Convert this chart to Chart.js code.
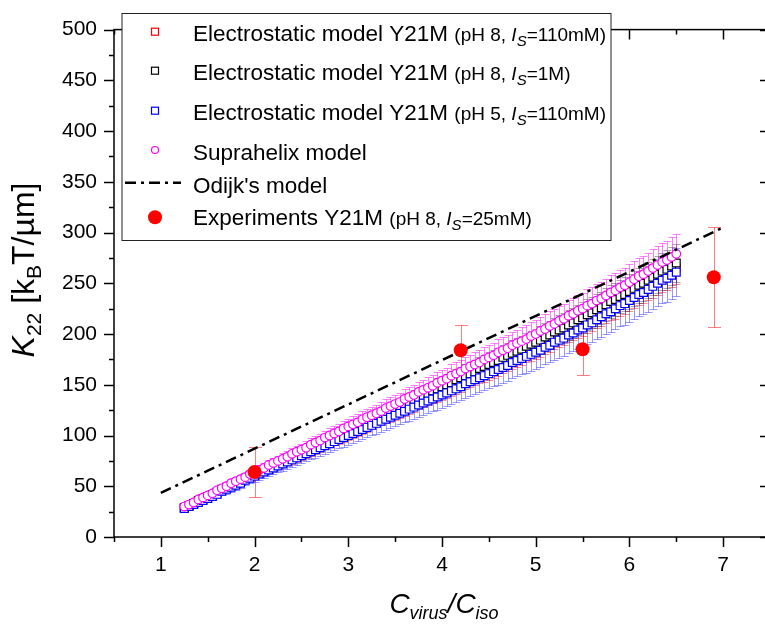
<!DOCTYPE html>
<html>
<head>
<meta charset="utf-8">
<script src="https://cdn.jsdelivr.net/npm/chart.js@4.4.1/dist/chart.umd.min.js"></script>
<style>
  html, body { margin: 0; padding: 0; overflow: hidden; background: #fff; }
</style>
</head>
<body>
<canvas id="grafico" width="780" height="628"></canvas>
<script>
// x de los modelos (C_virus / C_iso)
const xModelo = [1.25,1.3,1.35,1.4,1.45,1.5,1.55,1.6,1.65,1.7,1.75,1.8,1.85,1.9,1.95,2,2.05,2.1,2.15,2.2,2.25,2.3,2.35,2.4,2.45,2.5,2.55,2.6,2.65,2.7,2.75,2.8,2.85,2.9,2.95,3,3.05,3.1,3.15,3.2,3.25,3.3,3.35,3.4,3.45,3.5,3.55,3.6,3.65,3.7,3.75,3.8,3.85,3.9,3.95,4,4.05,4.1,4.15,4.2,4.25,4.3,4.35,4.4,4.45,4.5,4.55,4.6,4.65,4.7,4.75,4.8,4.85,4.9,4.95,5,5.05,5.1,5.15,5.2,5.25,5.3,5.35,5.4,5.45,5.5,5.55,5.6,5.65,5.7,5.75,5.8,5.85,5.9,5.95,6,6.05,6.1,6.15,6.2,6.25,6.3,6.35,6.4,6.45,6.5]

// Electrostatic model Y21M (pH 8, Is=110mM)
const yRojo = [28,30,32,35,37,39,41,43,46,48,50,52,54,57,59,61,63,65,67,69,71,73,75,77,79,81,83,85,87,89,92,94,96,98,100,102,104,106,108,110,113,115,117,119,121,123,125,127,129,131,134,136,138,140,142,144,146,148,150,152,155,157,159,161,163,165,167,169,172,174,176,178,180,183,185,187,189,192,194,197,199,201,204,206,209,211,214,216,219,221,224,227,229,232,234,237,240,243,245,248,251,254,257,259,262,265]
// Electrostatic model Y21M (pH 8, Is=1M)
const yNegro = [29,31,33,36,38,40,42,44,47,49,51,53,55,58,60,62,64,66,68,70,73,75,77,79,81,83,85,87,90,92,94,96,98,101,103,105,107,109,111,113,116,118,120,122,124,126,128,130,133,135,137,139,141,144,146,148,150,152,155,157,159,161,163,166,168,170,172,174,177,179,181,183,185,188,190,192,194,197,199,202,204,206,209,211,214,216,219,221,224,226,229,232,234,237,239,242,245,248,250,253,256,259,262,264,267,270]
// Electrostatic model Y21M (pH 5, Is=110mM)
const yAzul = [28,30,32,34,36,38,40,42,45,47,49,51,53,56,58,60,62,64,66,68,70,72,74,76,78,80,82,84,86,88,90,92,94,96,98,100,102,104,106,108,110,112,114,116,118,120,122,124,126,128,130,132,134,136,138,140,142,144,146,148,151,153,155,157,159,161,163,165,167,169,172,174,176,178,180,182,184,187,189,192,194,196,199,201,204,206,209,211,214,217,220,222,225,228,230,233,236,239,241,244,247,250,253,255,258,261]
// Suprahelix model
const yMagenta = [30,32,34,37,39,41,43,46,48,50,53,55,57,59,62,64,66,68,71,73,75,77,79,82,84,86,88,91,93,95,98,100,102,104,107,109,111,113,116,118,120,122,124,127,129,131,133,136,138,140,143,145,147,149,152,154,156,159,161,163,166,168,170,172,175,177,179,182,184,186,189,191,193,195,198,200,203,205,208,210,213,215,218,220,223,225,228,230,233,235,238,241,243,246,248,251,254,257,259,262,265,268,271,273,276,279]

// error relativo de cada modelo
const errRojo = 0.06
const errNegro = 0.07
const errAzul = 0.09
const errMagenta = 0.07

// Odijk's model
const xOdijk = [1, 7]
const yOdijk = [43.5, 305]

// Experiments Y21M (pH 8, Is=25mM)
const xExp = [2, 4.2, 5.5, 6.9]
const yExp = [64, 184, 185, 256]
const errExp = [25, 25, 25, 49]

const xTicks = [1, 2, 3, 4, 5, 6, 7]
const yTicks = [0, 50, 100, 150, 200, 250, 300, 350, 400, 450, 500]

const FAM = "'Liberation Sans', Arial, Helvetica, sans-serif"

const puntos = (xs, ys) => xs.map((x, i) => ({ x: x, y: ys[i] }))

// textos con subindices: [texto, tamaño, cursiva, desplazamiento]
const leyendas = [
  [["Electrostatic model Y21M ", 22.5], ["(pH 8, ", 19], ["I", 19, true], ["S", 15, true, 5], ["=110mM)", 19]],
  [["Electrostatic model Y21M ", 22.5], ["(pH 8, ", 19], ["I", 19, true], ["S", 15, true, 5], ["=1M)", 19]],
  [["Electrostatic model Y21M ", 22.5], ["(pH 5, ", 19], ["I", 19, true], ["S", 15, true, 5], ["=110mM)", 19]],
  [["Suprahelix model", 22.5]],
  [["Odijk's model", 22.5]],
  [["Experiments Y21M ", 22.5], ["(pH 8, ", 19], ["I", 19, true], ["S", 15, true, 5], ["=25mM)", 19]]
]
const tituloX = [["C", 28, true], ["virus", 18, true, 6], ["/", 28, true], ["C", 28, true], ["iso", 18, true, 6]]
const tituloY = [["K", 32, true], ["22", 21, false, 7], [" [k", 32], ["B", 21, false, 7], ["T/\u00b5m]", 32]]

function textoRico(ctx, partes, x, y, centrado) {
  let total = 0
  const anchos = partes.map(p => {
    ctx.font = (p[2] ? 'italic ' : '') + p[1] + 'px ' + FAM
    const w = ctx.measureText(p[0]).width
    total += w
    return w
  })
  let cx = centrado ? x - total / 2 : x
  partes.forEach((p, i) => {
    ctx.font = (p[2] ? 'italic ' : '') + p[1] + 'px ' + FAM
    ctx.fillText(p[0], cx, y + (p[3] || 0))
    cx += anchos[i]
  })
}

function marcador(ctx, ds, x, y) {
  ctx.save()
  ctx.lineWidth = ds.pointBorderWidth || 1
  ctx.strokeStyle = ds.borderColor
  ctx.fillStyle = ds.backgroundColor
  if (ds.pointStyle === 'rect') {
    const s = 3.5
    ctx.fillRect(x - s, y - s, 2 * s, 2 * s)
    ctx.strokeRect(x - s, y - s, 2 * s, 2 * s)
  } else {
    const r = ds.pointBorderWidth ? 3.5 : ds.pointRadius
    ctx.beginPath()
    ctx.arc(x, y, r, 0, Math.PI * 2)
    ctx.fill()
    if (ds.pointBorderWidth) ctx.stroke()
  }
  ctx.restore()
}

const barrasError = {
  id: 'barrasError',
  beforeDatasetsDraw(chart) {
    const { ctx, scales: { x, y } } = chart
    ctx.save()
    const lista = chart.data.datasets.map((d, i) => i).sort((a, b) => chart.data.datasets[b].order - chart.data.datasets[a].order)
    lista.forEach(i => {
      const ds = chart.data.datasets[i]
      if (!ds.errores) return
      ctx.strokeStyle = ds.colorError
      ctx.lineWidth = 1
      const c = ds.capa / 2
      ds.data.forEach((p, j) => {
        const e = ds.errores[j]
        const px = Math.round(x.getPixelForValue(p.x)) + 0.5
        const top = Math.round(y.getPixelForValue(p.y + e)) + 0.5
        const bot = Math.round(y.getPixelForValue(p.y - e)) + 0.5
        ctx.beginPath()
        ctx.moveTo(px, top); ctx.lineTo(px, bot)
        ctx.moveTo(px - c, top); ctx.lineTo(px + c, top)
        ctx.moveTo(px - c, bot); ctx.lineTo(px + c, bot)
        ctx.stroke()
      })
    })
    ctx.restore()
  }
}

const marco = {
  id: 'marco',
  afterDraw(chart) {
    const { ctx, chartArea: a, scales: { x, y } } = chart
    ctx.save()
    ctx.strokeStyle = '#000'
    ctx.lineWidth = 1.5
    ctx.strokeRect(a.left, a.top, a.right - a.left, a.bottom - a.top)
    ctx.beginPath()
    for (let i = 1; i <= 15; i++) {
      const v = i * 0.5
      const px = Math.round(x.getPixelForValue(v)) + 0.5
      const l = i % 2 === 0 ? 10 : 5
      ctx.moveTo(px, a.bottom); ctx.lineTo(px, a.bottom + l)
      ctx.moveTo(px, a.top); ctx.lineTo(px, a.top + l)
    }
    for (let i = 0; i <= 20; i++) {
      const v = i * 25
      const py = Math.round(y.getPixelForValue(v)) + 0.5
      const l = i % 2 === 0 ? 10 : 5
      ctx.moveTo(a.left, py); ctx.lineTo(a.left - l, py)
      ctx.moveTo(a.right, py); ctx.lineTo(a.right - l, py)
    }
    ctx.stroke()

    // titulos de ejes
    ctx.fillStyle = '#000'
    ctx.textBaseline = 'alphabetic'
    textoRico(ctx, tituloX, 444, 613, true)
    ctx.save()
    ctx.translate(34, 270)
    ctx.rotate(-Math.PI / 2)
    textoRico(ctx, tituloY, 0, 0, true)
    ctx.restore()

    // leyenda
    ctx.lineWidth = 1
    ctx.strokeStyle = '#222'
    ctx.fillStyle = '#fff'
    ctx.fillRect(122, 13.5, 489, 227)
    ctx.strokeRect(122, 13.5, 489, 227)
    const filas = [31.7, 70.7, 110.7, 150, 182.7, 217.3]
    const bases = [41, 80, 120, 160, 193, 225]
    chart.data.datasets.forEach((ds, k) => {
      if (ds.showLine) {
        ctx.save()
        ctx.strokeStyle = ds.borderColor
        ctx.lineWidth = ds.borderWidth
        ctx.setLineDash(ds.borderDash)
        ctx.beginPath()
        ctx.moveTo(125, filas[k]); ctx.lineTo(181, filas[k])
        ctx.stroke()
        ctx.restore()
      } else {
        marcador(ctx, ds, 155, filas[k])
      }
      ctx.fillStyle = '#000'
      textoRico(ctx, leyendas[k], 193, bases[k], false)
    })
    ctx.restore()
  }
}

const grafico = document.getElementById('grafico')

new Chart(grafico, {
  type: 'scatter',
  data: {
    datasets: [
      {
        label: 'Electrostatic model Y21M (pH 8, Is=110mM)',
        data: puntos(xModelo, yRojo),
        errores: yRojo.map(v => v * errRojo),
        colorError: 'rgba(255,0,0,0.45)',
        capa: 8,
        pointStyle: 'rect',
        pointRadius: 5.5,
        pointBorderWidth: 1.2,
        borderColor: '#ff0000',
        backgroundColor: '#ffffff',
        order: 6,
      },
      {
        label: 'Electrostatic model Y21M (pH 8, Is=1M)',
        data: puntos(xModelo, yNegro),
        errores: yNegro.map(v => v * errNegro),
        colorError: 'rgba(0,0,0,0.35)',
        capa: 8,
        pointStyle: 'rect',
        pointRadius: 5.5,
        pointBorderWidth: 1.2,
        borderColor: '#000000',
        backgroundColor: '#ffffff',
        order: 5,
      },
      {
        label: 'Electrostatic model Y21M (pH 5, Is=110mM)',
        data: puntos(xModelo, yAzul),
        errores: yAzul.map(v => v * errAzul),
        colorError: 'rgba(0,0,255,0.4)',
        capa: 8,
        pointStyle: 'rect',
        pointRadius: 5.5,
        pointBorderWidth: 1.2,
        borderColor: '#0000ff',
        backgroundColor: '#ffffff',
        order: 4,
      },
      {
        label: 'Suprahelix model',
        data: puntos(xModelo, yMagenta),
        errores: yMagenta.map(v => v * errMagenta),
        colorError: 'rgba(255,0,255,0.5)',
        capa: 8,
        pointStyle: 'circle',
        pointRadius: 4.3,
        pointBorderWidth: 1.2,
        borderColor: '#ff00ff',
        backgroundColor: '#ffffff',
        order: 3,
      },
      {
        label: "Odijk's model",
        data: puntos(xOdijk, yOdijk),
        showLine: true,
        borderColor: '#000000',
        borderWidth: 2.5,
        borderDash: [11, 5, 3, 5],
        pointRadius: 0,
        order: 2,
      },
      {
        label: 'Experiments Y21M (pH 8, Is=25mM)',
        data: puntos(xExp, yExp),
        errores: errExp,
        colorError: 'rgba(255,0,0,0.5)',
        capa: 13,
        pointStyle: 'circle',
        pointRadius: 7,
        pointBorderWidth: 0,
        borderColor: '#ff0000',
        backgroundColor: '#ff0000',
        order: 1,
      },
    ],
  },
  options: {
    responsive: false,
    animation: false,
    layout: { padding: { top: 7, right: 10, left: 0, bottom: 0 } },
    plugins: { legend: { display: false }, tooltip: { enabled: false } },
    scales: {
      x: {
        type: 'linear',
        min: 0.5,
        max: 7.5,
        afterBuildTicks: (s) => { s.ticks = xTicks.map(v => ({ value: v })) },
        afterFit: (s) => { s.height = 91 },
        grid: { display: false, drawTicks: false },
        border: { display: false },
        ticks: { color: '#000', padding: 16, font: { family: FAM, size: 21 } },
      },
      y: {
        min: 0,
        max: 500,
        afterBuildTicks: (s) => { s.ticks = yTicks.map(v => ({ value: v })) },
        afterFit: (s) => { s.width = 114 },
        grid: { display: false, drawTicks: false },
        border: { display: false },
        ticks: { color: '#000', padding: 17, font: { family: FAM, size: 21 } },
      },
    },
  },
  plugins: [barrasError, marco],
})
</script>
</body>
</html>
